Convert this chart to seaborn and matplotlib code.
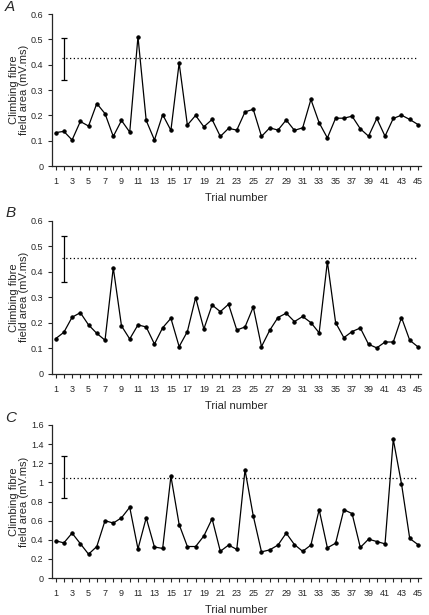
import numpy as np
import pandas as pd
import matplotlib
matplotlib.use("Agg")
import matplotlib.pyplot as plt
from matplotlib.ticker import FuncFormatter
import seaborn as sns

# trial numbers 1..45
trials = list(range(1, 46))

# climbing fibre field area (mV.ms)
area_a = [0.132, 0.137, 0.103, 0.176, 0.158, 0.247, 0.207, 0.117, 0.180, 0.134,
          0.511, 0.180, 0.103, 0.203, 0.141, 0.407, 0.162, 0.200, 0.155, 0.184,
          0.117, 0.149, 0.142, 0.214, 0.224, 0.117, 0.151, 0.142, 0.182, 0.141,
          0.151, 0.263, 0.171, 0.111, 0.189, 0.189, 0.197, 0.147, 0.118, 0.188,
          0.118, 0.188, 0.201, 0.184, 0.164]
area_b = [0.138, 0.163, 0.222, 0.240, 0.192, 0.159, 0.132, 0.416, 0.188, 0.137,
          0.192, 0.184, 0.117, 0.181, 0.218, 0.107, 0.166, 0.299, 0.176, 0.270,
          0.244, 0.273, 0.172, 0.184, 0.262, 0.107, 0.171, 0.221, 0.238, 0.205,
          0.225, 0.201, 0.161, 0.440, 0.201, 0.142, 0.166, 0.180, 0.116, 0.102,
          0.125, 0.125, 0.221, 0.132, 0.106]
area_c = [0.39, 0.368, 0.47, 0.36, 0.25, 0.33, 0.60, 0.575, 0.63, 0.74,
          0.305, 0.63, 0.325, 0.31, 1.065, 0.56, 0.33, 0.33, 0.44, 0.62,
          0.28, 0.345, 0.30, 1.13, 0.65, 0.274, 0.295, 0.345, 0.47, 0.35,
          0.28, 0.345, 0.715, 0.316, 0.365, 0.715, 0.674, 0.32, 0.407, 0.382,
          0.358, 1.45, 0.986, 0.414, 0.35]

# threshold (dotted line) and error bar shown at trial 2
thresholds = [0.426, 0.453, 1.049]
err_low = [0.339, 0.362, 0.835]
err_high = [0.507, 0.542, 1.274]
err_trial = 2

panels = ["A", "B", "C"]
y_max = [0.6, 0.6, 1.6]
y_step = [0.1, 0.1, 0.2]

sns.set_style("ticks")
plt.rcParams["font.family"] = ["Liberation Sans", "DejaVu Sans"]

fig = plt.figure(figsize=(4.29, 6.15), dpi=100)
boxes = [[0.121, 0.730, 0.860, 0.247],
         [0.121, 0.392, 0.860, 0.249],
         [0.121, 0.060, 0.860, 0.249]]

for i, series in enumerate([area_a, area_b, area_c]):
    ax = fig.add_axes(boxes[i])
    df = pd.DataFrame({"trial": trials, "area": series})
    sns.lineplot(data=df, x="trial", y="area", ax=ax, color="black",
                 linewidth=0.9, marker="o", markersize=2.4,
                 markeredgecolor="black")
    ax.hlines(thresholds[i], 1.8, 45, colors="black", linestyles=(0, (1, 2)),
              linewidth=0.9)
    mid = (err_low[i] + err_high[i]) / 2
    ax.errorbar([err_trial], [mid], yerr=[[mid - err_low[i]], [err_high[i] - mid]],
                fmt="none", ecolor="black", elinewidth=0.9, capsize=2.5,
                capthick=0.9)

    ax.set_xlim(0.55, 45.35)
    ax.set_ylim(0, y_max[i])
    ax.set_xticks(range(1, 46, 2))
    ax.set_xticks(range(1, 46), minor=True)
    ax.set_yticks(np.arange(0, y_max[i] + 1e-9, y_step[i]))
    ax.yaxis.set_major_formatter(FuncFormatter(lambda v, p: f"{v:g}"))
    ax.tick_params(axis="both", which="major", labelsize=6.5, length=3,
                   width=0.8)
    ax.tick_params(axis="x", which="major", pad=5)
    ax.tick_params(axis="x", which="minor", length=3, width=0.8)
    ax.tick_params(axis="y", pad=3)
    for s in ["left", "bottom"]:
        ax.spines[s].set_linewidth(0.9)
    sns.despine(ax=ax)
    ax.set_xlabel("Trial number", fontsize=8, labelpad=5)
    ax.set_ylabel("Climbing fibre\nfield area (mV.ms)", fontsize=8,
                  linespacing=1.0)
    ax.yaxis.set_label_coords(-0.062, 0.5)
    fig.text(0.012, boxes[i][1] + boxes[i][3] + 0.012, panels[i],
             fontsize=11, style="italic", va="center")

fig.savefig("out.png", dpi=100)
